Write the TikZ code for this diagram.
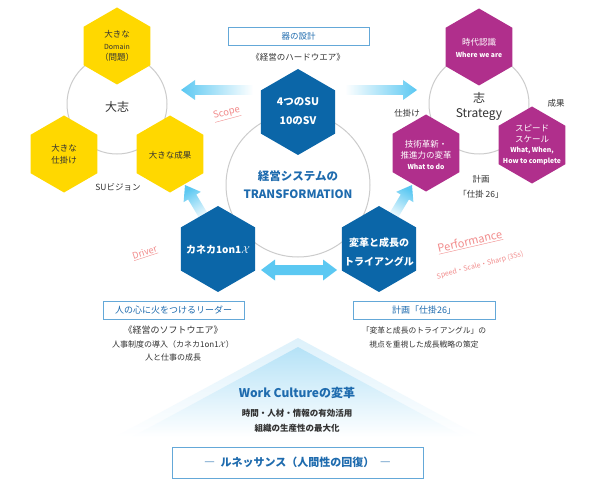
\documentclass[tikz,border=0pt]{standalone}
\usepackage{fontspec}
\setmainfont{Noto Sans CJK JP}
\usetikzlibrary{shapes.geometric,calc}
\definecolor{ylw}{HTML}{FFD800}
\definecolor{mag}{HTML}{B02F8C}
\definecolor{blu}{HTML}{0B66A8}
\definecolor{lb}{HTML}{5BC8F2}
\definecolor{bx}{HTML}{64A8D8}
\definecolor{btx}{HTML}{1E6BAE}
\definecolor{pnk}{HTML}{F28C8C}
\definecolor{gry}{HTML}{CCCCCC}
\definecolor{txt}{HTML}{333333}
\definecolor{tri1}{HTML}{DDF1FB}
\definecolor{tri2}{HTML}{B5E2F7}
\newcommand\fs[2]{\fontsize{#1}{#2}\selectfont}
\newcommand\garrow[3]{%
  \coordinate (gh) at ($(#2)!14pt!(#1)$);
  \path[#3] ($(#1)!4.8pt!90:(#2)$) -- ($(gh)!4.8pt!90:(#2)$) -- ($(gh)!10pt!90:(#2)$) -- (#2)
    -- ($(gh)!10pt!-90:(#2)$) -- ($(gh)!4.8pt!-90:(#2)$) -- ($(#1)!4.8pt!-90:(#2)$) -- cycle;}
\begin{document}
\begin{tikzpicture}[x=1pt,y=-1pt,
  every node/.style={inner sep=0pt,outer sep=0pt,text=txt},
  hexy/.style={regular polygon,regular polygon sides=6,rotate=30},
  yhex/.style={hexy,fill=ylw,minimum size=77pt},
  mhex/.style={hexy,fill=mag,minimum size=77pt},
  bhex/.style={hexy,fill=blu,minimum size=86pt},
  ring/.style={circle,draw=gry,line width=1pt},
  lbl/.style={align=center},
  wt/.style={text=white,align=center},
  tagbox/.style={draw=bx,line width=0.9pt,fill=white,text=btx},
  pinkl/.style={text=pnk,rotate=15}]
\useasboundingbox (0,0) rectangle (600,484);
\fill[white] (0,0) rectangle (600,484);

% rings
\node[ring,minimum size=100pt] (lring) at (117,104) {};
\node[ring,minimum size=100pt] (rring) at (479,104) {};
\node[ring,minimum size=144pt] (cring) at (298,185) {};

% base triangle
\path[top color=tri1,bottom color=white] (298,338) -- (481,437) -- (115,437) -- cycle;
\path[top color=tri2,bottom color=white] (298,347) -- (464,437) -- (132,437) -- cycle;

% arrows
\coordinate (tlT) at (253,90); \coordinate (tlP) at (181,90);
\coordinate (trT) at (345,90); \coordinate (trP) at (417,90);
\coordinate (dlT) at (206,220); \coordinate (dlP) at (185,185);
\coordinate (drT) at (391,220); \coordinate (drP) at (412,185);
\garrow{tlT}{tlP}{left color=lb,right color=white}
\garrow{trT}{trP}{right color=lb,left color=white}
\garrow{dlT}{dlP}{top color=lb,bottom color=white,shading angle=32}
\garrow{drT}{drP}{top color=lb,bottom color=white,shading angle=-30}
\coordinate (ha) at (261,270); \coordinate (hb) at (337,270);
\fill[lb] (ha) -- ++(14,-10.5) -- ++(0,5.5) -- (323,265) -- ++(0,-5.5) -- (hb)
  -- ++(-14,10.5) -- ++(0,-5.5) -- (275,275) -- ++(0,5.5) -- cycle;

% left cluster
\node[yhex] (y1) at (117,46) {};
\node[yhex] (y2) at (64,154) {};
\node[yhex] (y3) at (170,154) {};
\node[lbl,font=\fs{8.5}{11.5}] (y1t) at (117,46) {大きな\\{\fs{7}{11.5}Domain}\\（問題）};
\node[lbl,font=\fs{8.5}{12}] (y2t) at (64,154) {大きな\\仕掛け};
\node[lbl,font=\fs{8.5}{11}] (y3t) at (170,155) {大きな成果};
\node[font=\fs{12}{14}] (taishi) at (117,107) {大志};
\node[font=\fs{8.5}{10}] (suv) at (118,187) {SUビジョン};

% right cluster
\node[mhex] (m1) at (479,47) {};
\node[mhex] (m2) at (426,153) {};
\node[mhex] (m3) at (532,145) {};
\node[wt,font=\fs{8.5}{12}] (m1t) at (479,48) {時代認識\\{\bfseries\fs{6.8}{12}Where we are}};
\node[wt,font=\fs{8.5}{11}] (m2t) at (426,155) {技術革新・\\推進力の変革\\{\bfseries\fs{6.8}{11}What to do}};
\node[wt,font=\fs{8.5}{10.5}] (m3t) at (532,145) {スピード\\スケール\\{\bfseries\fs{6.8}{10.5}What, When,}\\{\bfseries\fs{6.8}{10.5}How to complete}};
\node[lbl,font=\fs{12}{15}] (kokoro) at (479,106) {志\\Strategy};
\node[font=\fs{8.5}{10}] (shikake) at (407,113) {仕掛け};
\node[font=\fs{8.5}{10}] (seika) at (556,103) {成果};
\node[lbl,font=\fs{8.5}{15}] (keikaku) at (481,187) {計画\\「仕掛 26」};

% center
\node[tagbox,minimum width=141pt,minimum height=18pt,font=\fs{8.5}{10}] (utsuwa) at (298.5,36) {器の設計};
\node[font=\fs{8.5}{10}] (hard) at (298,57) {《経営のハードウエア》};
\node[bhex] (c1) at (298,112) {};
\node[wt,font=\bfseries\fs{10.5}{19}] (c1t) at (298,111) {4つのSU\\10のSV};
\node[lbl,font=\bfseries\fs{11.5}{18},text=btx] (trans) at (298,185) {経営システムの\\TRANSFORMATION};
\node[bhex] (c2) at (218,249) {};
\node[wt,font=\bfseries\fs{10}{12}] (c2t) at (218,250) {カネカ1on1$\mathcal{X}$};
\node[bhex] (c3) at (379,249) {};
\node[wt,font=\bfseries\fs{10}{19}] (c3t) at (379,252) {変革と成長の\\トライアングル};

% pink labels
\node[pinkl,font=\fs{9.5}{11}] (scope) at (227,114) {\underline{Scope}};
\node[pinkl,font=\fs{9}{11},rotate=3] (driver) at (145,253) {\underline{Driver}};
\node[pinkl,font=\fs{11}{12},rotate=-2] (perf) at (470,242) {\underline{Performance}};
\node[pinkl,font=\fs{7}{8}] (speed) at (480,265.5) {Speed・Scale・Sharp (3Ss)};

% bottom boxes
\node[tagbox,minimum width=141pt,minimum height=18pt,font=\fs{9}{10}] (leader) at (173.5,310) {人の心に火をつけるリーダー};
\node[lbl,font=\fs{8}{13.5}] (soft) at (173,344) {{\fs{9}{13.5}《経営のソフトウエア》}\\人事制度の導入（カネカ1on1$\mathcal{X}$）\\人と仕事の成長};
\node[tagbox,minimum width=142pt,minimum height=18pt,font=\fs{9}{10}] (plan) at (424,310) {計画「仕掛26」};
\node[lbl,font=\fs{7.8}{14}] (plant) at (424,338) {「変革と成長のトライアングル」の\\視点を重視した成長戦略の策定};

% work culture
\node[font=\bfseries\fs{12}{14},text=btx] (wc) at (297,393) {Work Cultureの変革};
\node[lbl,font=\bfseries\fs{8.5}{15}] (wct) at (297,420.5) {時間・人材・情報の有効活用\\組織の生産性の最大化};
\node[tagbox,minimum width=251pt,minimum height=31pt,font=\bfseries\fs{11}{12},line width=1pt] (ren) at (297.5,462.5) {―\hspace{0.5em}ルネッサンス（人間性の回復）\hspace{0.5em}―};
\end{tikzpicture}
\end{document}
